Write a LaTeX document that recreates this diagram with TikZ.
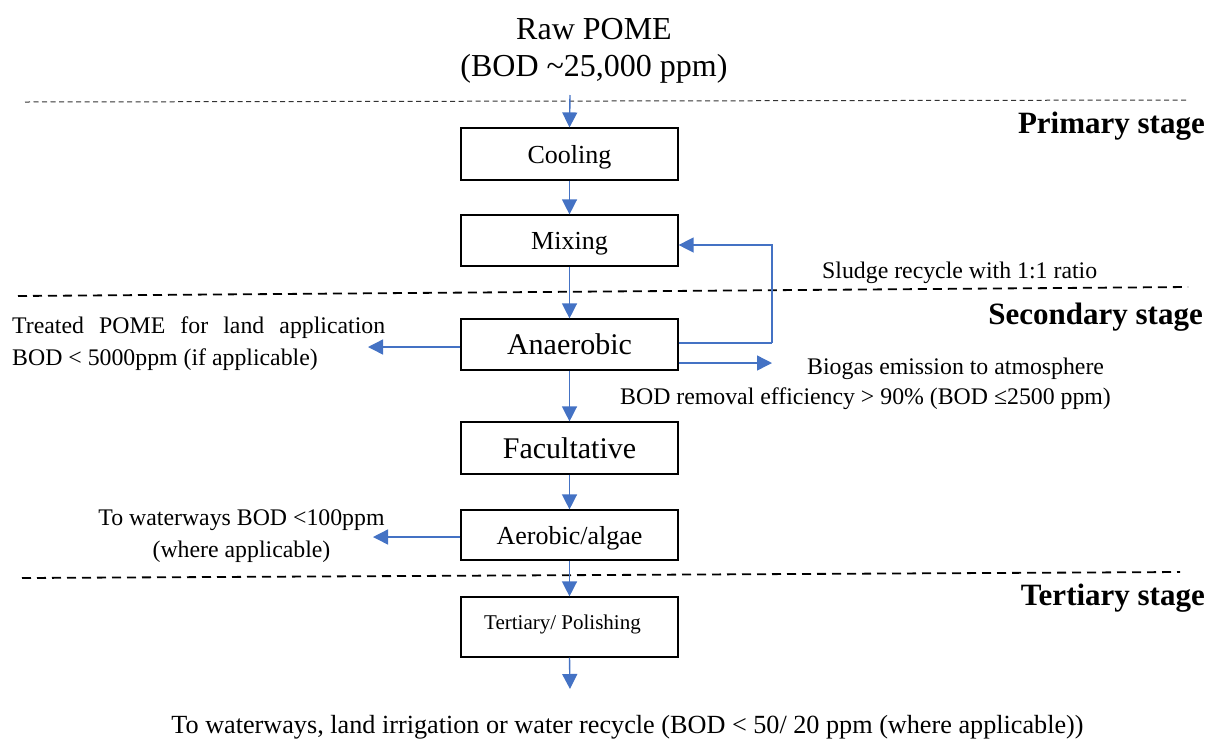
\documentclass[tikz,border=0pt]{standalone}
\usepackage{fontspec}
\setmainfont{Liberation Serif}
\usetikzlibrary{arrows.meta,calc}
\definecolor{flowblue}{HTML}{4472C4}
\begin{document}
\begin{tikzpicture}[x=1pt,y=-1pt,
  unitbox/.style={draw=black, line width=1.2pt, minimum width=217pt, inner sep=0pt, text depth=0pt},
  flow/.style={draw=flowblue, line width=1.4pt, -{Triangle[width=15pt,length=15pt]}},
  recycle/.style={draw=flowblue, line width=1.4pt},
  stageline/.style={line width=1.8pt, dash pattern=on 9pt off 6pt},
  topline/.style={line width=1pt, black!80, dash pattern=on 5pt off 3.5pt},
  stagelabel/.style={anchor=east, inner sep=0pt, font=\bfseries\fontsize{31}{36}\selectfont},
  note/.style={inner sep=0pt, font=\fontsize{23.8}{32}\selectfont}]
\useasboundingbox (0,0) rectangle (1222,740);

% feed
\node[align=center, inner sep=0pt, font=\fontsize{32}{37}\selectfont] (raw) at (594,51)
  {Raw POME\\(BOD \textasciitilde 25,000 ppm)};
\coordinate (rawout) at (570,95);

% treatment units
\node[unitbox, minimum height=52pt, font=\fontsize{26}{30}\selectfont] (cool) at (569.5,154) {Cooling};
\node[unitbox, minimum height=51pt, font=\fontsize{26}{30}\selectfont] (mix) at (569.5,240.5) {Mixing};
\node[unitbox, minimum height=51pt, font=\fontsize{30}{34}\selectfont] (ana) at (569.5,344.5) {Anaerobic};
\node[unitbox, minimum height=52pt, font=\fontsize{30}{34}\selectfont] (fac) at (569.5,448) {Facultative};
\node[unitbox, minimum height=50pt, font=\fontsize{26}{30}\selectfont] (aer) at (569.5,535) {Aerobic/algae};
\node[unitbox, minimum height=60pt, text height=32pt, text depth=28pt, font=\fontsize{21}{25}\selectfont] (ter) at (569.5,627) {Tertiary/ Polishing\hspace*{14pt}};

% stage boundaries
\draw[topline] (25,102) -- (1188,100);
\draw[stageline] (18,296) -- (1188,287);
\draw[stageline] (22,578) -- (1180,572);

\node[stagelabel] (st1) at (1205,126) {Primary stage};
\node[stagelabel] (st2) at (1203,317) {Secondary stage};
\node[stagelabel] (st3) at (1205,598) {Tertiary stage};

% side streams and notes
\node[note, anchor=west, align=left] (land) at (12,344)
  {\makebox[373pt][s]{Treated POME for land application}\\BOD < 5000ppm (if applicable)};
\coordinate (landtip) at (368,347);

\node[note, anchor=west] (sludge) at (822,273) {Sludge recycle with 1:1 ratio};
\coordinate (loop) at (772,343);

\coordinate (gastip) at (772,363);
\node[note, anchor=west] (gas) at (807,369) {Biogas emission to atmosphere};
\node[note, anchor=west] (eff) at (620,399) {BOD removal efficiency > 90\% (BOD ≤2500 ppm)};

\node[note, align=center] (water) at (241.5,536) {To waterways BOD <100ppm\\(where applicable)};
\coordinate (watertip) at (373,537);

\coordinate (outtip) at (570,689);
\node[note, font=\fontsize{26.2}{30}\selectfont] (final) at (627.5,727)
  {To waterways, land irrigation or water recycle (BOD < 50/ 20 ppm (where applicable))};

% main flow
\draw[flow] (rawout) -- (cool.north);
\draw[flow] (cool) -- (mix);
\draw[flow] (mix) -- (ana);
\draw[flow] (ana) -- (fac);
\draw[flow] (fac) -- (aer);
\draw[flow] (aer) -- (ter);
\draw[flow] (ter.south) -- (outtip);

% branches
\draw[flow] ([yshift=-2.5pt]ana.west) -- (landtip);
\draw[recycle] ([yshift=1.5pt]ana.east) -- (loop);
\draw[flow] (loop) |- ([yshift=-4.5pt]mix.east);
\draw[flow] ([yshift=-18.5pt]ana.east) -- (gastip);
\draw[flow] ([yshift=-2pt]aer.west) -- (watertip);
\end{tikzpicture}
\end{document}
